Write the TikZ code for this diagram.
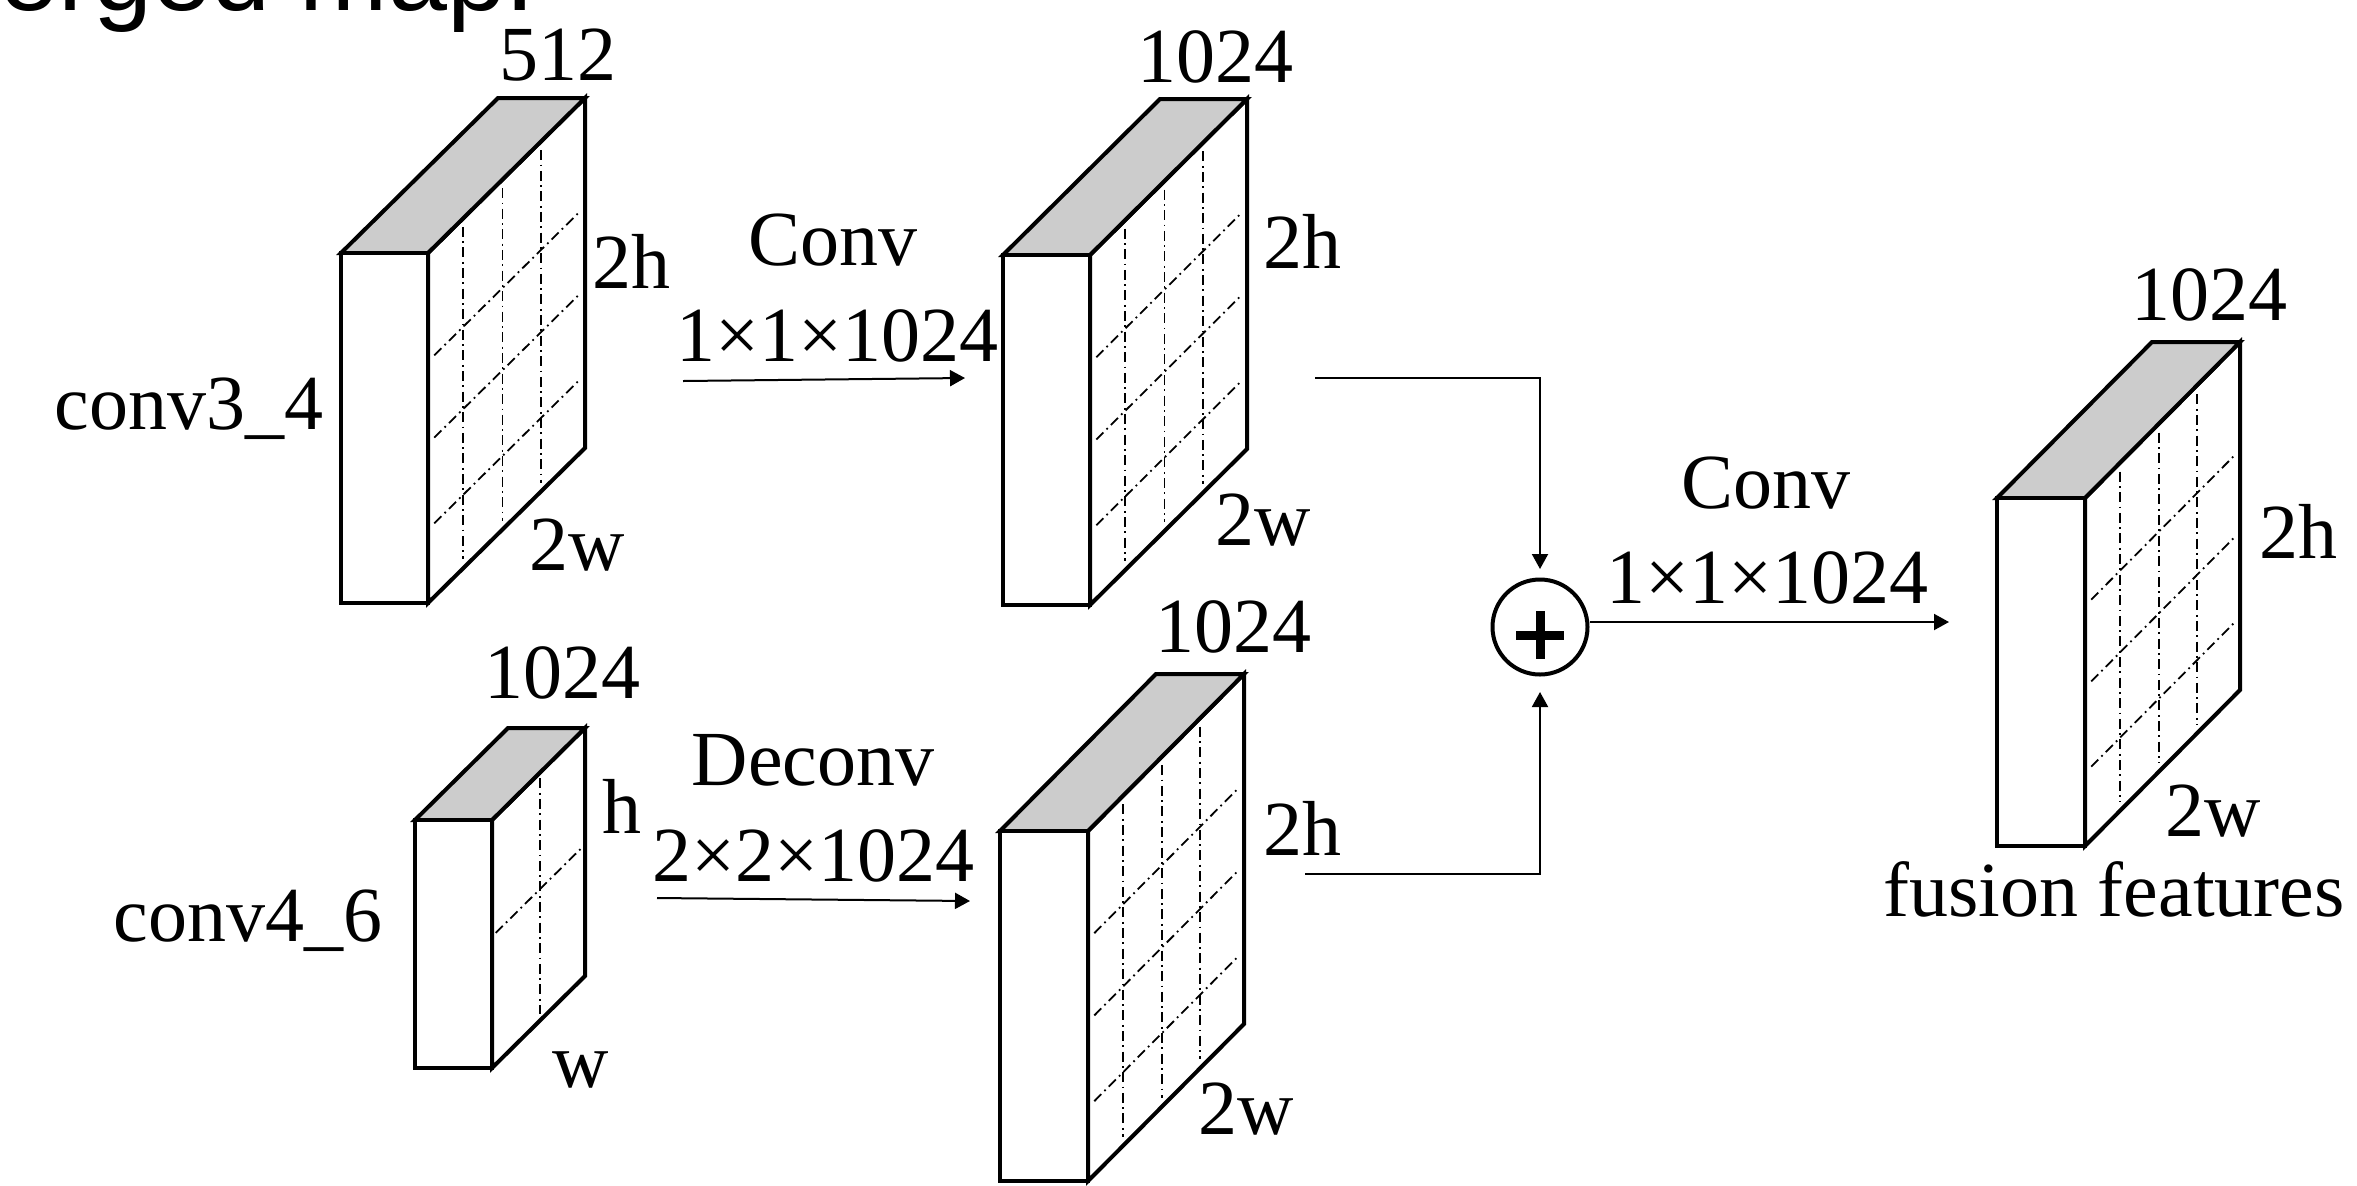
\documentclass[tikz,border=0pt]{standalone}
\usepackage{fontspec}
\setmainfont{Liberation Serif}
\newfontfamily\sansfam{Liberation Sans}
\usetikzlibrary{arrows.meta}
\definecolor{topgray}{RGB}{204,204,204}
% #1 name, #2 x, #3 y, #4 w, #5 h, #6 dx, #7 dy, #8 vertical fractions, #9 diagonal fractions
\newcommand\featblock[9]{%
  \coordinate (#1-a) at (#2,#3);
  \coordinate (#1-b) at ({#2+#4},#3);
  \coordinate (#1-c) at ({#2+#4},{#3+#5});
  \coordinate (#1-d) at (#2,{#3+#5});
  \coordinate (#1-e) at ({#2+#6},{#3+(#7)});
  \coordinate (#1-f) at ({#2+#4+#6},{#3+(#7)});
  \coordinate (#1-g) at ({#2+#4+#6},{#3+#5+(#7)});
  \draw[blk, fill=white] (#1-b) -- (#1-f) -- (#1-g) -- (#1-c) -- cycle;
  \foreach \gt in {#8} {
    \draw[gridln] ({#2+#4+\gt*(#6)},{#3+\gt*(#7)+0.025*#5}) -- ({#2+#4+\gt*(#6)},{#3+#5+\gt*(#7)-0.025*#5});
  }
  \foreach \gs in {#9} {
    \draw[gridln] ({#2+#4+0.04*(#6)},{#3+\gs*#5+0.04*(#7)}) -- ({#2+#4+0.96*(#6)},{#3+\gs*#5+0.96*(#7)});
  }
  \draw[topface] (#1-a) -- (#1-e) -- (#1-f) -- (#1-b) -- cycle;
  \draw[blk, fill=white] (#1-a) rectangle (#1-c);
}
\begin{document}
\begin{tikzpicture}[x=0.5pt,y=-0.5pt,
  blk/.style={line width=2pt, line join=miter},
  topface/.style={blk, fill=topgray},
  gridln/.style={line width=0.9pt, dash pattern=on 5pt off 2.2pt on 0.9pt off 2.2pt},
  lab/.style={font=\fontsize{39}{39}\selectfont, inner sep=0pt, anchor=base},
  conn/.style={line width=1pt},
  arr/.style={conn, -{Triangle[width=8pt,length=7.5pt]}},
]
\useasboundingbox (0,0) rectangle (2357,1185);

% cut-off title (cut off by the picture's top edge, as in the reference)
\node[anchor=base west, inner sep=0pt, font=\sansfam\fontsize{53}{53}\selectfont] (title) at (-1,10) {erged map.};

% feature blocks
\featblock{b1}{341}{253}{87}{350}{157}{-155}{0.225,0.475,0.72}{0.31,0.545,0.79}
\featblock{b2}{1003}{255}{87}{350}{157}{-156}{0.225,0.475,0.72}{0.31,0.545,0.79}
\featblock{b4}{415}{820}{77}{248}{93}{-92}{0.52}{0.47}
\featblock{b5}{1000}{831}{88}{350}{156}{-157}{0.225,0.475,0.72}{0.31,0.545,0.79}
\featblock{b3}{1997}{498}{88}{348}{155}{-156}{0.225,0.475,0.72}{0.31,0.545,0.79}

% labels
\node[lab] (l512) at (558,80) {512};
\node[lab] (l1h) at (631,288) {2h};
\node[lab] (l1w) at (577,570) {2w};
\node[lab] (lconv34) at (189,429) {conv3\_4};
\node[lab] (lconvA) at (833,265) {Conv};
\node[lab] (lconvAk) at (837,361) {1×1×1024};
\node[lab] (l2c) at (1215,82) {1024};
\node[lab] (l2h) at (1302,268) {2h};
\node[lab] (l2w) at (1263,545) {2w};
\node[lab] (l4c) at (562,698) {1024};
\node[lab] (l4h) at (622,833) {h};
\node[lab] (l4w) at (581,1087) {w};
\node[lab] (lconv46) at (248,941) {conv4\_6};
\node[lab] (ldeconv) at (813,785) {Deconv};
\node[lab] (ldeconvk) at (813,881) {2×2×1024};
\node[lab] (l5c) at (1233,652) {1024};
\node[lab] (l5h) at (1302,855) {2h};
\node[lab] (l5w) at (1246,1134) {2w};
\node[lab] (lconvB) at (1766,508) {Conv};
\node[lab] (lconvBk) at (1767,603) {1×1×1024};
\node[lab] (l3c) at (2209,320) {1024};
\node[lab] (l3h) at (2298,558) {2h};
\node[lab] (l3w) at (2213,836) {2w};
\node[lab] (lfusion) at (2114,916) {fusion features};

% sum node
\node[circle, draw, line width=2pt, minimum size=47.5pt, inner sep=0pt] (plus) at (1540,627) {};
\draw[line width=4.5pt] (1516,635) -- (1564,635) (1540,611) -- (1540,659);

% connector end points
\coordinate (aS) at (683,381);
\coordinate (aE) at (965,378);
\coordinate (dS) at (657,898);
\coordinate (dE) at (970,901);
\coordinate (b2out) at (1315,378);
\coordinate (b5out) at (1305,874);
\coordinate (b3in) at (1949,622);

\draw[arr] (aS) -- (aE);
\draw[arr] (dS) -- (dE);
\draw[arr, shorten >=4.25pt] (b2out) -| (plus.north);
\draw[arr, shorten >=7.75pt] (b5out) -| (plus.south);
\draw[arr] ([yshift=2.5pt]plus.east) -- (b3in);
\end{tikzpicture}
\end{document}
